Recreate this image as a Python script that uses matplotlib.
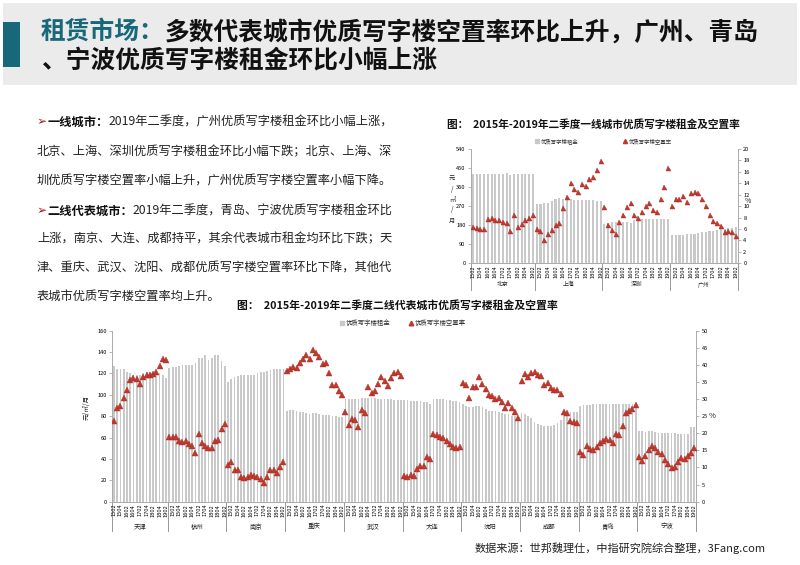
import matplotlib
matplotlib.use("Agg")
import matplotlib.pyplot as plt
import matplotlib.transforms as mtransforms
from matplotlib.patches import Rectangle
from matplotlib.lines import Line2D
import numpy as np

plt.rcParams['font.family'] = ['Noto Sans CJK SC', 'DejaVu Sans']

# ---------------- data ----------------
quarter_labels = ['1502', '1504', '1602', '1604', '1702', '1704', '1802', '1804', '1902']

t1_cities = ['北京', '上海', '深圳', '广州']
t1_rent = [
    [423, 423, 423, 423, 422, 422, 422, 423, 424, 427, 419, 420, 424, 424, 424, 423, 423],
    [278, 281, 284, 287, 295, 306, 309, 302, 302, 302, 301, 300, 299, 299, 299, 297, 296, 295],
    [186, 192, 194, 195, 196, 197, 196, 190, 206, 207, 209, 209, 210, 211, 211, 211, 210, 209],
    [136, 136, 136, 136, 137, 138, 140, 143, 146, 149, 151, 153, 155, 160, 164, 168, 169, 170],
]
t1_vac = [
    [6.3, 6.1, 6.0, 6.0, 7.8, 7.9, 7.5, 7.5, 7.2, 7.0, 5.6, 8.4, 6.4, 6.9, 7.5, 8.0, 8.4],
    [6.0, 5.6, 4.0, 5.1, 5.9, 6.7, 7.1, 9.6, 11.6, 14.0, 13.0, 12.5, 13.9, 13.6, 14.7, 15.1, 16.3, 17.9],
    [9.9, 6.7, 5.9, 5.2, 7.2, 8.4, 9.8, 10.5, 8.5, 8.0, 8.9, 10.1, 10.5, 9.4, 9.0, 11.3, 13.3, 16.6],
    [10.1, 11.2, 11.3, 11.8, 10.8, 12.3, 12.5, 12.3, 11.2, 10.0, 8.5, 7.4, 7.1, 6.6, 5.4, 5.6, 5.4, 4.8],
]

t2_cities = ['天津', '杭州', '南京', '重庆', '武汉', '大连', '沈阳', '成都', '青岛', '宁波']
t2_rent = [
    [127, 124, 124, 124, 121, 120, 119, 119, 119, 120, 121, 121, 120, 120, 120, 119, 116],
    [125, 126, 126, 127, 128, 128, 128, 128, 130, 134, 134, 137, 133, 134, 137, 137, 132, 127],
    [112, 115, 117, 118, 119, 119, 119, 119, 119, 120, 121, 121, 122, 123, 124, 124, 124, 124],
    [85, 86, 86, 85, 84, 84, 83, 82, 83, 83, 82, 81, 81, 81, 80, 80, 79, 79],
    [96, 96, 96, 96, 96, 97, 97, 97, 97, 97, 96, 96, 96, 96, 96, 95, 95, 95],
    [95, 95, 94.5, 94, 94.5, 94.2, 93.6, 93, 91.4, 96, 96, 96, 96, 95.4, 94.7, 94.4, 94, 93.6],
    [91, 90, 88.5, 88.5, 90, 89.5, 89, 86.5, 85, 85, 84.5, 83.5, 83, 82.5, 82, 80.5, 80, 79],
    [82.6, 82, 80.5, 78, 74.8, 72.6, 71.7, 71, 70.7, 70.7, 71.7, 73.9, 76.5, 83.5, 84.2, 84.2, 84.2, 84.2],
    [90, 90.3, 90.5, 90.5, 91, 91, 91.5, 91.3, 91.3, 91.3, 91.3, 91.3, 91.3, 91.3, 91.3, 91.3, 91.2, 91],
    [66, 66, 65.5, 66.2, 66.2, 65.5, 64.7, 64.5, 64.3, 64.3, 64, 64, 63.7, 63.5, 63.4, 63, 69.5, 69.5],
]
t2_vac = [
    [23.5, 27.5, 28.0, 30.2, 32.7, 35.6, 36.2, 35.8, 34.5, 36.6, 37.0, 37.0, 37.3, 38.0, 39.7, 41.8, 41.4],
    [18.8, 18.8, 19.0, 17.8, 17.5, 17.8, 16.9, 16.3, 14.1, 19.7, 17.2, 16.3, 15.6, 15.6, 17.8, 18.1, 21.3, 22.8],
    [10.6, 11.6, 9.4, 9.4, 7.2, 6.9, 7.2, 7.8, 7.5, 7.2, 6.6, 5.6, 7.2, 9.4, 9.4, 8.4, 10.0, 11.6],
    [38.1, 38.8, 39.4, 39.1, 40.6, 41.6, 42.8, 41.6, 44.4, 43.4, 42.2, 40.3, 40.6, 37.5, 34.1, 34.1, 32.5, 31.3],
    [26.3, 22.5, 24.1, 23.8, 21.9, 26.9, 25.9, 33.4, 31.9, 32.5, 34.4, 36.6, 35.3, 33.8, 36.3, 37.5, 37.8, 36.9],
    [7.5, 7.2, 7.8, 7.5, 9.7, 10.4, 10.4, 13.0, 12.5, 19.7, 19.5, 18.8, 18.6, 17.7, 16.9, 16.1, 15.6, 15.9],
    [34.8, 34.1, 30.2, 33.6, 33.5, 36.5, 34.3, 32.9, 31.2, 31.0, 30.0, 30.2, 29.1, 27.5, 29.0, 27.5, 26.3, 24.6],
    [35.3, 37.3, 36.6, 37.7, 38.0, 37.0, 36.7, 34.1, 34.6, 33.3, 32.7, 32.6, 31.6, 26.3, 25.8, 23.6, 23.4, 22.9],
    [14.4, 13.6, 16.4, 15.3, 15.0, 15.9, 17.3, 17.7, 18.4, 17.9, 17.1, 19.7, 19.5, 22.2, 25.8, 26.6, 27.0, 28.3],
    [13.0, 12.0, 13.3, 15.1, 16.4, 15.6, 14.6, 13.9, 12.1, 11.0, 9.9, 10.2, 11.7, 12.7, 12.4, 13.3, 14.3, 15.8],
]

legend_rent = '优质写字楼租金'
legend_vac = '优质写字楼空置率'

# ---------------- figure ----------------
W, H = 800, 565
fig = plt.figure(figsize=(W / 100, H / 100), dpi=100)


def fx(x):
    return x / W


def fy(y):
    return 1 - y / H


BAR_C = '#c9c9c9'
TRI_C = '#c0392b'
TEAL = '#17697a'

# header band
fig.add_artist(Rectangle((fx(3), fy(85)), fx(794), 82 / H, transform=fig.transFigure,
                         facecolor='#ebebeb', edgecolor='none', zorder=0))
fig.add_artist(Rectangle((fx(3), fy(67)), fx(17), 45 / H, transform=fig.transFigure,
                         facecolor=TEAL, edgecolor='none', zorder=1))

fig.canvas.draw()
renderer = fig.canvas.get_renderer()


def chain_text(x, y, parts, size):
    """parts: list of (text, color, weight)"""
    cx = x
    for txt, col, wt in parts:
        t = fig.text(fx(cx), fy(y), txt, color=col, fontsize=size, fontweight=wt,
                     va='center', ha='left',
                     family=['Noto Sans CJK SC', 'DejaVu Sans'])
        bb = t.get_window_extent(renderer=renderer)
        cx += bb.width
    return cx


TITLE = 17.8
chain_text(41, 32, [('租赁市场：', TEAL, 'bold'),
                    ('多数代表城市优质写字楼空置率环比上升，广州、青岛', '#111111', 'bold')], TITLE)
chain_text(41, 61, [('、宁波优质写字楼租金环比小幅上涨', '#111111', 'bold')], TITLE)

# body text
BODY = 8.8
ARW = '#9b1c1c'
chain_text(37, 122, [('➢', ARW, 'normal'), ('一线城市：', '#111111', 'bold'),
                     ('2019年二季度，广州优质写字楼租金环比小幅上涨，', '#222222', 'normal')], BODY)
chain_text(37, 152, [('北京、上海、深圳优质写字楼租金环比小幅下跌；北京、上海、深', '#222222', 'normal')], BODY)
chain_text(37, 181, [('圳优质写字楼空置率小幅上升，广州优质写字楼空置率小幅下降。', '#222222', 'normal')], BODY)
chain_text(37, 211, [('➢', ARW, 'normal'), ('二线代表城市：', '#111111', 'bold'),
                     ('2019年二季度，青岛、宁波优质写字楼租金环比', '#222222', 'normal')], BODY)
chain_text(37, 239, [('上涨，南京、大连、成都持平，其余代表城市租金均环比下跌；天', '#222222', 'normal')], BODY)
chain_text(37, 268, [('津、重庆、武汉、沈阳、成都优质写字楼空置率环比下降，其他代', '#222222', 'normal')], BODY)
chain_text(37, 296, [('表城市优质写字楼空置率均上升。', '#222222', 'normal')], BODY)


def make_chart(box, cities, rents, vacs, ylim_l, yt_l, ylim_r, yt_r, bar_w, msize,
               tick_fs, city_fs, drop_px, city_px):
    x0, y0, x1, y1 = box
    ax = fig.add_axes([fx(x0), fy(y1), (x1 - x0) / W, (y1 - y0) / H])
    ax2 = ax.twinx()
    xs_all, rent_all, vac_all = [], [], []
    tick_pos, tick_lab = [], []
    bounds = [0]
    pos = 0
    for ci, (r, v) in enumerate(zip(rents, vacs)):
        n = len(r)
        xs = list(range(pos, pos + n))
        xs_all += xs
        rent_all += r
        vac_all += v
        start = 0 if n == 17 else 1
        for k, lab in enumerate(quarter_labels):
            tick_pos.append(pos + start + 2 * k)
            tick_lab.append(lab)
        pos += n
        bounds.append(pos)
    ax.bar(xs_all, rent_all, width=bar_w, color=BAR_C, edgecolor='none', zorder=2)
    ax2.plot(xs_all, vac_all, linestyle='none', marker='^', color=TRI_C,
             markersize=msize, markeredgewidth=0.3, markeredgecolor='#a52a2a', zorder=3)
    ax.set_xlim(-0.5, pos - 0.5)
    ax.set_ylim(*ylim_l)
    ax.set_yticks(yt_l)
    ax2.set_ylim(*ylim_r)
    ax2.set_yticks(yt_r)
    ax.set_xticks(tick_pos)
    ax.set_xticklabels(tick_lab, rotation=90, fontsize=tick_fs, family='DejaVu Sans')
    ax.tick_params(axis='x', length=0, pad=1.5)
    for a in (ax, ax2):
        a.tick_params(axis='y', labelsize=tick_fs + 0.5, length=2, width=0.5,
                      color='#999999', pad=2)
        for s in a.spines.values():
            s.set_color('#aaaaaa')
            s.set_linewidth(0.6)
        a.spines['top'].set_visible(False)
    ax2.set_zorder(ax.get_zorder() + 1)
    ax.patch.set_visible(False)
    ax2.patch.set_visible(False)
    ah = y1 - y0
    tr = mtransforms.blended_transform_factory(ax.transData, ax.transAxes)
    for b in bounds:
        ax.plot([b - 0.5, b - 0.5], [0, -drop_px / ah], transform=tr, color='#888888',
                lw=0.6, clip_on=False, zorder=1)
    for ci, name in enumerate(cities):
        mid = (bounds[ci] + bounds[ci + 1] - 1) / 2
        ax.text(mid, -city_px / ah, name, transform=tr, ha='center', va='center',
                fontsize=city_fs, color='#222222')
    return ax, ax2


# ---------- tier 1 chart ----------
fig.text(fx(447), fy(124), '图：  2015年-2019年二季度一线城市优质写字楼租金及空置率',
         fontsize=7.7, fontweight='bold', va='center', ha='left', color='#111111')
a1, a1r = make_chart((471, 149, 737.7, 263.3), t1_cities, t1_rent, t1_vac,
                     (0, 540), range(0, 541, 90), (0, 20), range(0, 21, 2),
                     0.55, 3.6, 3.6, 4.2, 27, 21)
fig.text(fx(452), fy(200), '元\n/\n㎡\n/\n月', fontsize=4.5, ha='center', va='center',
         linespacing=1.4, color='#222222')
fig.text(fx(748), fy(201), '%', fontsize=5, ha='center', va='center', color='#222222')
# legend tier 1
fig.add_artist(Line2D([fx(537)], [fy(141)], marker='s', markersize=2.5, color=BAR_C,
                      linestyle='none', transform=fig.transFigure))
fig.text(fx(541), fy(141), legend_rent, fontsize=3.9, va='center', ha='left', color='#333333')
fig.add_artist(Line2D([fx(625)], [fy(141)], marker='^', markersize=3, color=TRI_C,
                      linestyle='none', transform=fig.transFigure))
fig.text(fx(629), fy(141), legend_vac, fontsize=3.9, va='center', ha='left', color='#333333')

# ---------- tier 2 chart ----------
fig.text(fx(237), fy(305), '图：  2015年-2019年二季度二线代表城市优质写字楼租金及空置率',
         fontsize=7.8, fontweight='bold', va='center', ha='left', color='#111111')
a2, a2r = make_chart((112.3, 330.7, 696, 501.7), t2_cities, t2_rent, t2_vac,
                     (0, 160), range(0, 161, 20), (0, 50), range(0, 51, 5),
                     0.55, 3.8, 3.6, 4.6, 29, 25)
fig.text(fx(87), fy(407), '元/㎡/月', fontsize=4.8, rotation=90, ha='center', va='center',
         color='#222222')
fig.text(fx(712), fy(416), '%', fontsize=5.5, ha='center', va='center', color='#222222')
fig.add_artist(Line2D([fx(342)], [fy(323)], marker='s', markersize=2.8, color=BAR_C,
                      linestyle='none', transform=fig.transFigure))
fig.text(fx(346), fy(323), legend_rent, fontsize=4.6, va='center', ha='left', color='#333333')
fig.add_artist(Line2D([fx(411)], [fy(323)], marker='^', markersize=3.3, color=TRI_C,
                      linestyle='none', transform=fig.transFigure))
fig.text(fx(415), fy(323), legend_vac, fontsize=4.6, va='center', ha='left', color='#333333')

# source
fig.text(fx(475), fy(548), '数据来源：世邦魏理仕，中指研究院综合整理，3Fang.com',
         fontsize=8, va='center', ha='left', color='#222222')

fig.savefig('out.png', dpi=100)
